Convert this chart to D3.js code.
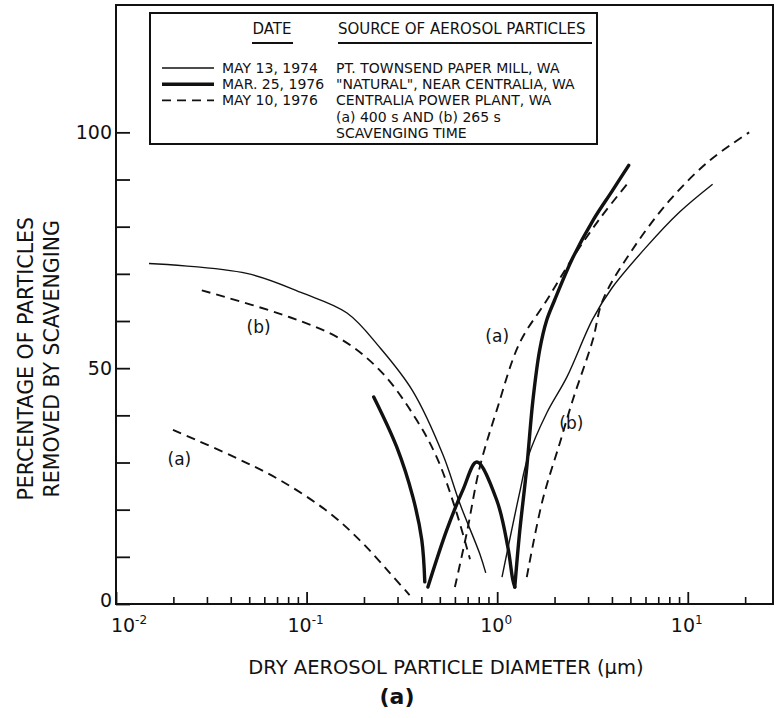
<!DOCTYPE html>
<html>
<head>
<meta charset="utf-8">
<script src="https://cdn.jsdelivr.net/npm/d3@7"></script>
<style>
  body { margin: 0; background: #fff; }
  svg { display: block; font-family: "DejaVu Sans", sans-serif; }
  text { fill: #111; }
</style>
</head>
<body>
<div id="chart"></div>
<script>
const width = 777;
const height = 718;

// curve pieces, [diameter (um), percent removed]
const may1974Left = [[0.0149, 72.2], [0.0485, 70.1], [0.0955, 65.9], [0.163, 61.7], [0.242, 54.4], [0.36, 45.2], [0.52, 31.6], [0.637, 21.3], [0.811, 10.6], [0.871, 6.6]];
const may1974Right = [[1.06, 5.7], [1.31, 23.5], [1.45, 31.1], [1.82, 40.5], [2.32, 48.1], [3.17, 60.4], [4.0, 67.0], [6.0, 75.5], [9.0, 83.0], [13.5, 89.0]];
const mar1976Left = [[0.225, 43.9], [0.297, 33.3], [0.361, 22.7], [0.402, 13.6], [0.417, 4.7]];
const mar1976Mid = [[0.433, 3.6], [0.544, 15.7], [0.661, 24.2], [0.782, 30.1], [0.995, 22.0], [1.137, 12.1], [1.208, 5.1], [1.237, 3.6]];
const mar1976Right = [[1.237, 3.6], [1.31, 15.0], [1.43, 29.0], [1.54, 43.2], [1.67, 53.8], [1.82, 60.2], [2.0, 64.4], [2.5, 73.5], [3.2, 81.5], [4.0, 87.5], [4.9, 93.0]];
const may1976aLeft = [[0.0199, 36.9], [0.0395, 31.6], [0.0723, 26.3], [0.132, 19.3], [0.197, 12.9], [0.273, 6.6], [0.347, 1.9]];
const may1976aRight = [[0.60, 3.6], [0.692, 15.0], [0.81, 29.0], [0.995, 41.1], [1.31, 55.3], [1.82, 64.4], [2.5, 73.5], [3.5, 82.0], [4.8, 89.0]];
const may1976bLeft = [[0.0282, 66.5], [0.0817, 60.8], [0.155, 55.9], [0.251, 48.9], [0.378, 39.0], [0.482, 31.1], [0.60, 20.5], [0.72, 9.5]];
const may1976bRight = [[1.43, 5.7], [1.73, 22.0], [2.13, 34.1], [2.49, 43.2], [3.17, 55.9], [3.58, 64.4], [5.0, 74.5], [8.0, 85.5], [13.0, 94.0], [21.0, 100.0]];

const seriesStyles = {
  thin: {width: 1.4, dash: null},
  thick: {width: 3.4, dash: null},
  dashed: {width: 1.9, dash: '9,6'}
};
const curvePieces = [
  {style: 'thin', data: may1974Left}, {style: 'thin', data: may1974Right},
  {style: 'thick', data: mar1976Left}, {style: 'thick', data: mar1976Mid}, {style: 'thick', data: mar1976Right},
  {style: 'dashed', data: may1976aLeft}, {style: 'dashed', data: may1976aRight},
  {style: 'dashed', data: may1976bLeft}, {style: 'dashed', data: may1976bRight}
];

// curve tags (a)/(b) placed in data units
const tags = [
  {text: '(b)', x: 0.056, y: 57.5},
  {text: '(a)', x: 0.0215, y: 29.5},
  {text: '(a)', x: 1.0, y: 55.5},
  {text: '(b)', x: 2.45, y: 37.0}
];

const xMajor = [0.01, 0.1, 1, 10];
const xMajorExp = ['-2', '-1', '0', '1'];
const xMinor = [];
[0.01, 0.1, 1, 10].forEach(d => { for (let k = 2; k <= 9; k++) if (d * k < 28) xMinor.push(d * k); });
const yTicks = [0, 10, 20, 30, 40, 50, 60, 70, 80, 90, 100];
const yLabels = [0, 50, 100];

const legendDates = ['MAY 13, 1974', 'MAR. 25, 1976', 'MAY 10, 1976'];
const legendStyles = ['thin', 'thick', 'dashed'];
const legendSources = ['PT. TOWNSEND PAPER MILL, WA', '"NATURAL", NEAR CENTRALIA, WA', 'CENTRALIA POWER PLANT, WA', '(a) 400 s AND (b) 265 s', 'SCAVENGING TIME'];

const x = d3.scaleLog().domain([0.01, 28]).range([116, 773]);
const y = d3.scaleLinear().domain([0, 127]).range([604, 5]);

const svg = d3.select('#chart').append('svg').attr('width', width).attr('height', height);

// frame
svg.append('rect')
  .attr('x', x.range()[0]).attr('y', y.range()[1])
  .attr('width', x.range()[1] - x.range()[0]).attr('height', y.range()[0] - y.range()[1])
  .attr('fill', 'none').attr('stroke', '#111').attr('stroke-width', 2);

// x ticks point up into the plot
svg.append('g')
  .attr('transform', `translate(0, ${y(0)})`)
  .call(d3.axisBottom(x).tickValues(xMinor).tickSizeInner(-7).tickSizeOuter(0).tickFormat(''))
  .call(g => g.select('.domain').remove())
  .call(g => g.selectAll('line').attr('stroke', '#111').attr('stroke-width', 1.6));

svg.append('g')
  .attr('transform', `translate(0, ${y(0)})`)
  .call(d3.axisBottom(x).tickValues(xMajor).tickSizeInner(-12).tickSizeOuter(0).tickFormat(''))
  .call(g => g.select('.domain').remove())
  .call(g => g.selectAll('line').attr('stroke', '#111').attr('stroke-width', 1.8));

svg.append('g').selectAll('text').data(xMajor).enter().append('text')
  .attr('x', (d, i) => x(d) + (i === 0 ? 13 : -1))
  .attr('y', y(0) + 28)
  .attr('font-size', 19)
  .attr('text-anchor', 'middle')
  .each(function (d, i) {
    const t = d3.select(this);
    t.append('tspan').text('10');
    t.append('tspan').attr('dy', -8).attr('font-size', 12).text(xMajorExp[i]);
  });

// y ticks point right into the plot
svg.append('g')
  .attr('transform', `translate(${x.range()[0]}, 0)`)
  .call(d3.axisLeft(y).tickValues(yTicks).tickSizeInner(-14).tickSizeOuter(0).tickPadding(4)
    .tickFormat(d => yLabels.includes(d) ? d : ''))
  .call(g => g.select('.domain').remove())
  .call(g => g.selectAll('line').attr('stroke', '#111').attr('stroke-width', 1.8))
  .call(g => g.selectAll('text').attr('font-size', 19).attr('font-family', '"DejaVu Sans", sans-serif').attr('fill', '#111'))
  .call(g => g.selectAll('.tick').filter(d => d === 0).select('text').attr('dy', '0.15em'));

// axis titles
svg.append('text')
  .attr('x', 446).attr('y', 674)
  .attr('text-anchor', 'middle').attr('font-size', 19.5)
  .text('DRY AEROSOL PARTICLE DIAMETER (\u03bcm)');
svg.append('text')
  .attr('x', 397).attr('y', 704)
  .attr('text-anchor', 'middle').attr('font-size', 22).attr('font-weight', 'bold')
  .text('(a)');

const yTitle = svg.append('g').attr('transform', `translate(0, ${y(52)}) rotate(-90)`);
yTitle.append('text').attr('x', 0).attr('y', 33).attr('text-anchor', 'middle').attr('font-size', 20.5)
  .text('PERCENTAGE OF PARTICLES');
yTitle.append('text').attr('x', 0).attr('y', 59).attr('text-anchor', 'middle').attr('font-size', 20.5)
  .text('REMOVED BY SCAVENGING');

// curves
const line = d3.line()
  .x(d => x(d[0]))
  .y(d => y(d[1]))
  .curve(d3.curveCatmullRom.alpha(0.5));

svg.append('g').selectAll('path').data(curvePieces).enter().append('path')
  .attr('d', d => line(d.data))
  .attr('fill', 'none')
  .attr('stroke', '#111')
  .attr('stroke-width', d => seriesStyles[d.style].width)
  .attr('stroke-dasharray', d => seriesStyles[d.style].dash)
  .attr('stroke-linecap', d => d.style === 'thick' ? 'round' : 'butt');

svg.append('g').selectAll('text').data(tags).enter().append('text')
  .attr('x', d => x(d.x)).attr('y', d => y(d.y))
  .attr('text-anchor', 'middle').attr('font-size', 17)
  .text(d => d.text);

// legend
const legend = svg.append('g');
legend.append('rect')
  .attr('x', 150).attr('y', 13).attr('width', 447).attr('height', 131)
  .attr('fill', '#fff').attr('stroke', '#111').attr('stroke-width', 2);

legend.append('text').attr('x', 272).attr('y', 34).attr('text-anchor', 'middle').attr('font-size', 15).text('DATE');
legend.append('line').attr('x1', 252).attr('x2', 293).attr('y1', 43).attr('y2', 43).attr('stroke', '#111').attr('stroke-width', 1.8);
legend.append('text').attr('x', 338).attr('y', 34).attr('font-size', 15).text('SOURCE OF AEROSOL PARTICLES');
legend.append('line').attr('x1', 338).attr('x2', 592).attr('y1', 43).attr('y2', 43).attr('stroke', '#111').attr('stroke-width', 1.8);

const rowY = i => 73 + i * 16.2;

legend.selectAll('.sample').data(legendStyles).enter().append('line')
  .attr('x1', 162).attr('x2', 214)
  .attr('y1', (d, i) => rowY(i) - 5).attr('y2', (d, i) => rowY(i) - 5)
  .attr('stroke', '#111')
  .attr('stroke-width', d => seriesStyles[d].width)
  .attr('stroke-dasharray', d => seriesStyles[d].dash);

legend.selectAll('.date').data(legendDates).enter().append('text')
  .attr('x', 222).attr('y', (d, i) => rowY(i))
  .attr('font-size', 14)
  .text(d => d);

legend.selectAll('.source').data(legendSources).enter().append('text')
  .attr('x', 336).attr('y', (d, i) => rowY(i))
  .attr('font-size', 14)
  .text(d => d);
</script>
</body>
</html>
